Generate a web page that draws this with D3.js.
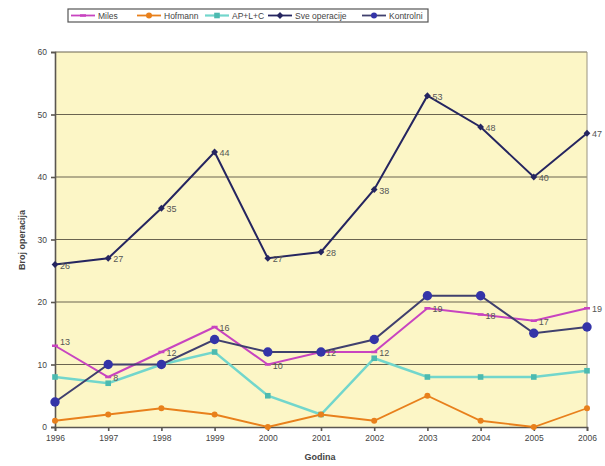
<!DOCTYPE html>
<html><head><meta charset="utf-8">
<script src="https://cdn.jsdelivr.net/npm/d3@7"></script>
<style>body{margin:0;background:#fff;font-family:"Liberation Sans",Arial,sans-serif;}</style>
</head><body><svg id="c" width="605" height="466"></svg>
<script>
const years = [1996,1997,1998,1999,2000,2001,2002,2003,2004,2005,2006];
const miles = [13,8,12,16,10,12,12,19,18,17,19];
const hofmann = [1,2,3,2,0,2,1,5,1,0,3];
const aplc = [8,7,10,12,5,2,11,8,8,8,9];
const sve = [26,27,35,44,27,28,38,53,48,40,47];
const kontrolni = [4,10,10,14,12,12,14,21,21,15,16];
const yTicks = [0,10,20,30,40,50,60];

const series = [
  {name:"Miles", values:miles, color:"#c844c0", marker:"dash", r:2, labels:true, lw:2},
  {name:"Hofmann", values:hofmann, color:"#e8801c", marker:"circle", r:3, labels:false, lw:1.8},
  {name:"AP+L+C", values:aplc, color:"#72d6cc", mcolor:"#4cbab0", marker:"square", r:2.8, labels:false, lw:2.5},
  {name:"Sve operacije", values:sve, color:"#252560", marker:"diamond", r:2.6, labels:true, lw:2},
  {name:"Kontrolni", values:kontrolni, color:"#40406e", mcolor:"#3434a8", marker:"circle", r:4.7, labels:false, lw:2}
];

const svg = d3.select("#c");
const L=55, R=587, T=52, B=427;
const x = d3.scalePoint().domain(years).range([L,R]);
const y = d3.scaleLinear().domain([0,60]).range([B,T]);

svg.append("rect").attr("x",L).attr("y",T).attr("width",R-L).attr("height",B-T).attr("fill","#fcf6c6");

svg.append("g").selectAll("line").data(yTicks.filter(d=>d>0)).join("line")
  .attr("x1",L).attr("x2",R).attr("y1",d=>y(d)).attr("y2",d=>y(d))
  .attr("stroke","#6a6450").attr("stroke-width",1.2);
svg.append("line").attr("x1",R).attr("x2",R).attr("y1",T).attr("y2",B).attr("stroke","#9a9480").attr("stroke-width",1);

const yAxis = d3.axisLeft(y).tickValues(yTicks).tickSize(4).tickPadding(4);
const gy = svg.append("g").attr("transform",`translate(${L},0)`).call(yAxis);
const xAxis = d3.axisBottom(x).tickSize(4).tickPadding(4).tickFormat(d3.format("d"));
const gx = svg.append("g").attr("transform",`translate(0,${B})`).call(xAxis);
[gx,gy].forEach(g=>{
  g.selectAll("path,line").attr("stroke","#5a5650").attr("stroke-width",1.6);
  g.selectAll("text").attr("fill","#444").attr("font-size",8.5).attr("font-family","Liberation Sans, Arial");
});

svg.append("text").attr("x",320).attr("y",460).attr("text-anchor","middle")
  .attr("font-size",9).attr("font-weight","bold").attr("fill","#444").text("Godina");
svg.append("text").attr("transform","translate(25,240) rotate(-90)").attr("text-anchor","middle")
  .attr("font-size",9).attr("font-weight","bold").attr("fill","#444").text("Broj operacija");

function drawMarker(g, s, cx, cy){
  const c = s.mcolor || s.color;
  if(s.marker==="circle") g.append("circle").attr("cx",cx).attr("cy",cy).attr("r",s.r).attr("fill",c);
  else if(s.marker==="square") g.append("rect").attr("x",cx-s.r).attr("y",cy-s.r).attr("width",2*s.r).attr("height",2*s.r).attr("fill",c);
  else if(s.marker==="diamond") g.append("path").attr("d",`M${cx},${cy-s.r*1.3}L${cx+s.r*1.3},${cy}L${cx},${cy+s.r*1.3}L${cx-s.r*1.3},${cy}Z`).attr("fill",c);
  else if(s.marker==="dash") g.append("line").attr("x1",cx-3).attr("x2",cx+3).attr("y1",cy).attr("y2",cy).attr("stroke",c).attr("stroke-width",2.5);
}

const line = d3.line().x((d,i)=>x(years[i])).y(d=>y(d));
const order = [2,1,0,4,3];
order.forEach(k=>{
  const s = series[k];
  const g = svg.append("g");
  g.append("path").attr("d",line(s.values)).attr("fill","none").attr("stroke",s.color).attr("stroke-width",s.lw);
  s.values.forEach((v,i)=>drawMarker(g,s,x(years[i]),y(v)));
});
[series[0],series[3]].forEach(s=>{
  svg.append("g").selectAll("text").data(s.values).join("text")
    .attr("x",(d,i)=>x(years[i])+5).attr("y",(d,i)=>y(d)+(i===0 && s.name==="Miles"? -1 : 4))
    .attr("font-size",9).attr("fill","#555").text(d=>d);
});

const lg = svg.append("g");
lg.append("rect").attr("x",68).attr("y",9).attr("width",360).attr("height",13).attr("fill","#fff").attr("stroke","#555").attr("stroke-width",1.2);
const lx = [71,137,205,268,362];
series.forEach((s,i)=>{
  const gx0 = lx[i];
  lg.append("line").attr("x1",gx0).attr("x2",gx0+24).attr("y1",15.5).attr("y2",15.5).attr("stroke",s.color).attr("stroke-width",s.lw>2?2.2:1.8);
  const ms = Object.assign({},s,{r:Math.min(s.r,3)});
  drawMarker(lg,ms,gx0+12,15.5);
  lg.append("text").attr("x",gx0+27).attr("y",18.5).attr("font-size",8.5).attr("fill","#444").text(s.name);
});
</script></body></html>
